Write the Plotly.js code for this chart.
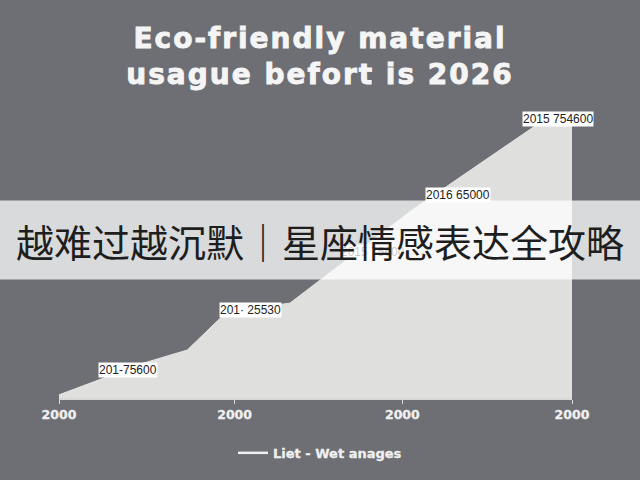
<!DOCTYPE html>
<html>
<head>
<meta charset="utf-8">
<script src="https://cdn.plot.ly/plotly-3.0.1.min.js"></script>
<style>
  html, body { margin: 0; padding: 0; background: #6d6f74; }
  #chart { width: 640px; height: 480px; }
</style>
</head>
<body>
<div id="chart"></div>
<script>
// area outline (value in thousands)
const years = [2000, 2004.3, 2006.5, 2008.5, 2011.7, 2017.9, 2024.2, 2026];
const usage = [9, 100, 137, 246, 271, 537, 780, 780];

const tickYears = [2000, 2008.9, 2017.4, 2026];
const tickLabels = ['2000', '2000', '2000', '2000'];

const labelTexts = ['201-75600', '201\u00b7 25530', '2015 75600', '2016 65000', '2015 754600'];
const labelYears = [2003.5, 2009.7, 2015.9, 2020.2, 2025.3];
const labelValues = [80, 251, 417, 580, 797];

const seriesName = 'Liet - Wet anages';
const titleLines = ['Eco-friendly material', 'usague befort is 2026'];
const banner = '越难过越沉默｜星座情感表达全攻略';

const BG = '#6d6f74';
const LIGHT = '#f0f0f0';
const WIDE = '"DejaVu Sans", sans-serif';

// heavier look for the light texts
const heavy = (s, spacing, stroke, color) =>
  '<span style="letter-spacing:' + spacing + 'px;stroke:' + color + ';stroke-width:' + stroke + 'px">' + s + '</span>';

const traces = [
  {
    x: years, y: usage, type: 'scatter', mode: 'lines', fill: 'tozeroy',
    fillcolor: '#dfe0de', line: { color: '#e4e5e3', width: 1 },
    showlegend: false, hoverinfo: 'skip',
  },
  {
    x: [null], y: [null], type: 'scatter', mode: 'lines', name: heavy(seriesName, 0, 0.3, LIGHT),
    line: { color: LIGHT, width: 2.5 },
  },
];

const annotations = labelTexts.map((t, i) => ({
  x: labelYears[i], y: labelValues[i], text: t, showarrow: false,
  font: { family: 'Liberation Sans, Arial, sans-serif', size: 12, color: '#222' },
  bgcolor: '#ffffff', borderpad: 0,
}));

// overlay banner goes last so it sits above the labels
annotations.push({
  xref: 'paper', yref: 'paper', x: 0.5088, y: 0.564, xanchor: 'center', yanchor: 'middle',
  text: banner, showarrow: false, width: 644, height: 78, borderpad: 0,
  bgcolor: 'rgba(255,255,255,0.74)',
  font: { family: '"Noto Sans CJK SC", sans-serif', size: 38, color: '#1e1e1e' },
});

const layout = {
  width: 640, height: 480,
  paper_bgcolor: BG, plot_bgcolor: BG,
  margin: { l: 59, r: 68, t: 118, b: 82 },
  title: {
    text: titleLines.map(s => heavy(s, 2, 0.9, '#f5f5f5')).join('<br>'),
    x: 0.5, xanchor: 'center', y: 0.9, yanchor: 'middle',
    font: { family: WIDE, size: 28, color: '#f5f5f5', weight: 700 },
  },
  xaxis: {
    range: [2000, 2026], showgrid: false, zeroline: false,
    showline: true, linecolor: '#d8d8d8', linewidth: 1.5,
    ticks: 'outside', ticklen: 4, tickcolor: '#d8d8d8',
    tickvals: tickYears, ticktext: tickLabels.map(t => heavy(t, 0, 0.3, LIGHT)),
    tickfont: { family: WIDE, size: 12.5, color: LIGHT, weight: 700 },
  },
  yaxis: { range: [0, 800], visible: false },
  showlegend: true,
  legend: {
    orientation: 'h', x: 0.5088, xanchor: 'center', y: -0.196, yanchor: 'middle',
    font: { family: WIDE, size: 13, color: LIGHT, weight: 700 },
    bgcolor: 'rgba(0,0,0,0)',
  },
  annotations: annotations,
};

Plotly.newPlot('chart', traces, layout, { displayModeBar: false, staticPlot: true });
</script>
</body>
</html>
